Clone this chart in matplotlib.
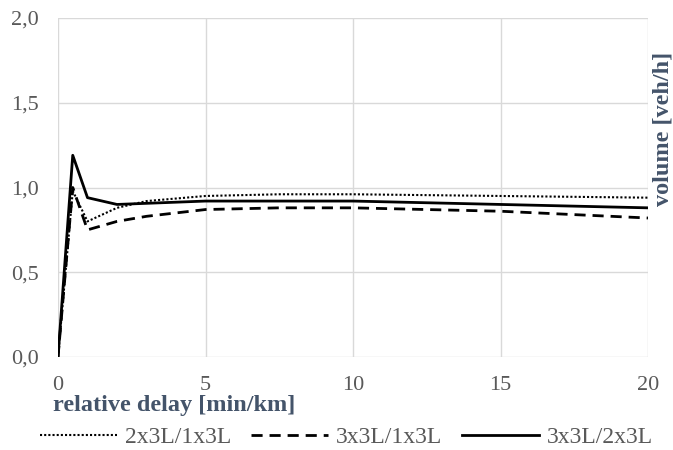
import matplotlib
matplotlib.use("Agg")
import matplotlib.pyplot as plt
from matplotlib.ticker import FuncFormatter

# relative delay [min/km] and volume ratios for the three lane configurations
delay_dotted = [0, 0.5, 1, 2, 3, 5, 7.5, 10, 15, 20]
ratio_2x3_1x3 = [0, 0.98, 0.80, 0.88, 0.92, 0.95, 0.96, 0.96, 0.95, 0.94]

delay_dashed = [0, 0.5, 1, 2, 3, 5, 7.5, 10, 15, 20]
ratio_3x3_1x3 = [0, 1.00, 0.75, 0.80, 0.83, 0.87, 0.88, 0.88, 0.86, 0.82]

delay_solid = [0, 0.5, 1, 2, 5, 10, 15, 20]
ratio_3x3_2x3 = [0, 1.19, 0.94, 0.90, 0.92, 0.92, 0.90, 0.88]

series_labels = ["2x3L/1x3L", "3x3L/1x3L", "3x3L/2x3L"]
x_ticks = [0, 5, 10, 15, 20]
y_ticks = [0.0, 0.5, 1.0, 1.5, 2.0]

plt.rcParams["font.family"] = ["Liberation Serif", "DejaVu Serif"]

W, H = 673, 450
fig = plt.figure(figsize=(W / 100, H / 100), dpi=100)
ax = fig.add_axes([58 / W, 1 - 357 / H, 590 / W, 339 / H])

ax.plot(delay_dotted, ratio_2x3_1x3, color="black", lw=1.5,
        linestyle=(0, (1, 1)), label=series_labels[0])
ax.plot(delay_dashed, ratio_3x3_1x3, color="black", lw=2.0,
        linestyle=(0, (4, 2.5)), label=series_labels[1])
ax.plot(delay_solid, ratio_3x3_2x3, color="black", lw=2.0,
        label=series_labels[2])

ax.set_xlim(0, 20)
ax.set_ylim(0, 2.0)
ax.set_xticks(x_ticks)
ax.set_yticks(y_ticks)
ax.yaxis.set_major_formatter(FuncFormatter(lambda v, p: f"{v:.1f}".replace(".", ",")))
ax.grid(True, color="#d9d9d9", lw=1)
ax.set_axisbelow(True)
for s in ax.spines.values():
    s.set_visible(False)
ax.tick_params(length=0, labelsize=16, colors="#595959")
ax.tick_params(axis="y", pad=14)
ax.tick_params(axis="x", pad=14)

label_color = "#44546a"
fig.text(53 / W, 1 - 405 / H, "relative delay [min/km]", fontsize=17.5,
         fontweight="bold", color=label_color, ha="left", va="center")
fig.text(663 / W, 1 - 129 / H, "volume [veh/h]", rotation=90, fontsize=17.5,
         fontweight="bold", color=label_color, ha="center", va="center")

leg = fig.legend(loc="center", bbox_to_anchor=(346.5 / W, 1 - 437 / H), ncol=3,
                 frameon=False, handlelength=3.25, columnspacing=0.85,
                 handletextpad=0.33, fontsize=17, borderaxespad=0,
                 borderpad=0)
for t in leg.get_texts():
    t.set_color("#595959")

fig.savefig("out.png", dpi=100)
